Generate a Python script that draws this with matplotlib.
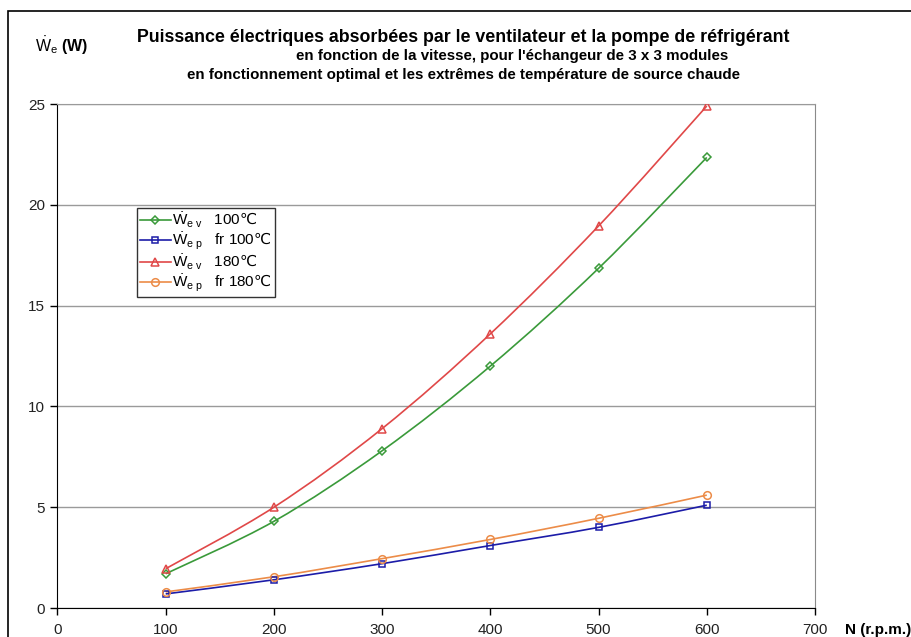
import numpy as np
import matplotlib
matplotlib.use("Agg")
import matplotlib.pyplot as plt
from matplotlib.path import Path
from matplotlib.patches import PathPatch, Rectangle
from matplotlib.lines import Line2D

plt.rcParams['font.family'] = ['Liberation Sans', 'DejaVu Sans']
plt.rcParams['mathtext.fontset'] = 'custom'
plt.rcParams['mathtext.rm'] = 'Liberation Sans'
plt.rcParams['mathtext.it'] = 'Liberation Sans:italic'
plt.rcParams['mathtext.bf'] = 'Liberation Sans:bold'
plt.rcParams['mathtext.sf'] = 'DejaVu Sans'

# speed (rpm) and absorbed electrical power (W)
speed = [100, 200, 300, 400, 500, 600]
w_fan_100 = [1.7, 4.3, 7.8, 12.0, 16.85, 22.35]
w_pump_100 = [0.7, 1.4, 2.2, 3.1, 4.0, 5.1]
w_fan_180 = [1.95, 5.0, 8.9, 13.6, 18.95, 24.9]
w_pump_180 = [0.8, 1.55, 2.45, 3.4, 4.45, 5.6]

labels = [r'$\dot{\mathrm{W}}_{\mathrm{e\ v}}$   100$\mathsf{℃}$',
          r'$\dot{\mathrm{W}}_{\mathrm{e\ p}}$   fr 100$\mathsf{℃}$',
          r'$\dot{\mathrm{W}}_{\mathrm{e\ v}}$   180$\mathsf{℃}$',
          r'$\dot{\mathrm{W}}_{\mathrm{e\ p}}$   fr 180$\mathsf{℃}$']
x_ticks = [0, 100, 200, 300, 400, 500, 600, 700]
y_ticks = [0, 5, 10, 15, 20, 25]


def smooth_path(xs, ys):
    # cubic Bezier through every point, Catmull-Rom style tangents
    pts = np.column_stack([xs, ys]).astype(float)
    ext = np.vstack([pts[0], pts, pts[-1]])
    verts = [pts[0]]
    codes = [Path.MOVETO]
    for i in range(1, len(ext) - 2):
        p0, p1, p2, p3 = ext[i - 1], ext[i], ext[i + 1], ext[i + 2]
        c1 = p1 + (p2 - p0) / 6.0
        c2 = p2 - (p3 - p1) / 6.0
        verts += [c1, c2, p2]
        codes += [Path.CURVE4] * 3
    return Path(verts, codes)


fig = plt.figure(figsize=(9.11, 6.37), dpi=100)
ax = fig.add_axes([0.0631, 0.0455, 0.8315, 0.7912])

series = [
    (w_fan_100, '#3a9a3a', 'D', 4.5),
    (w_pump_100, '#1c1ca8', 's', 5),
    (w_fan_180, '#e04848', '^', 5.5),
    (w_pump_180, '#ec8c48', 'o', 5.5),
]
handles = []
for (vals, col, mk, ms), lab in zip(series, labels):
    ax.add_patch(PathPatch(smooth_path(speed, vals), fill=False,
                           edgecolor=col, lw=1.2, zorder=3))
    ax.plot(speed, vals, ls='none', marker=mk, ms=ms, mfc='none',
            mec=col, mew=1.1, zorder=4)
    handles.append(Line2D([], [], color=col, lw=1.2, marker=mk, ms=ms,
                          mfc='none', mec=col, mew=1.1, label=lab))

ax.set_xlim(0, 700)
ax.set_ylim(0, 25)
ax.set_xticks(x_ticks)
ax.set_yticks(y_ticks)
ax.grid(axis='y', color='#9a9a9a', lw=1)
ax.set_axisbelow(True)
ax.tick_params(direction='out', length=5, width=1, labelsize=11,
               labelcolor='#222222', pad=4)
ax.tick_params(axis='x', pad=6)
ax.spines['left'].set_color('black')
ax.spines['bottom'].set_color('black')
ax.spines['right'].set_color('#8a8a8a')
ax.spines['top'].set_color('#9a9a9a')

leg = ax.legend(handles=handles, loc='upper left',
                bbox_to_anchor=(0.105, 0.794), borderaxespad=0,
                fontsize=11, frameon=True, fancybox=False,
                edgecolor='black', handlelength=2.0, handletextpad=0.1,
                labelspacing=0.05, borderpad=0.2)
leg.get_frame().set_linewidth(1)

fig.text(0.508, 1 - 37 / 637, "Puissance électriques absorbées par le ventilateur et la pompe de réfrigérant",
         ha='center', va='center', fontsize=12.8, fontweight='bold')
fig.text(0.562, 1 - 56 / 637, "en fonction de la vitesse, pour l'échangeur de 3 x 3 modules",
         ha='center', va='center', fontsize=10.9, fontweight='bold')
fig.text(0.509, 1 - 75 / 637, "en fonctionnement optimal et les extrêmes de température de source chaude",
         ha='center', va='center', fontsize=10.9, fontweight='bold')
fig.text(0.038, 1 - 46 / 637, r'$\dot{\mathrm{W}}_{\mathrm{e}}$ (W)', ha='left', va='center',
         fontsize=11.5, fontweight='bold')
fig.text(845 / 911, 1 - 630 / 637, 'N (r.p.m.)', ha='left', va='center',
         fontsize=11, fontweight='bold')

# chart border
fig.add_artist(Rectangle((8 / 911, -0.05), 1.2, 1 - 11 / 637 + 0.05,
                         transform=fig.transFigure, fill=False,
                         edgecolor='black', lw=1.2))

fig.savefig('out.png', dpi=100)
